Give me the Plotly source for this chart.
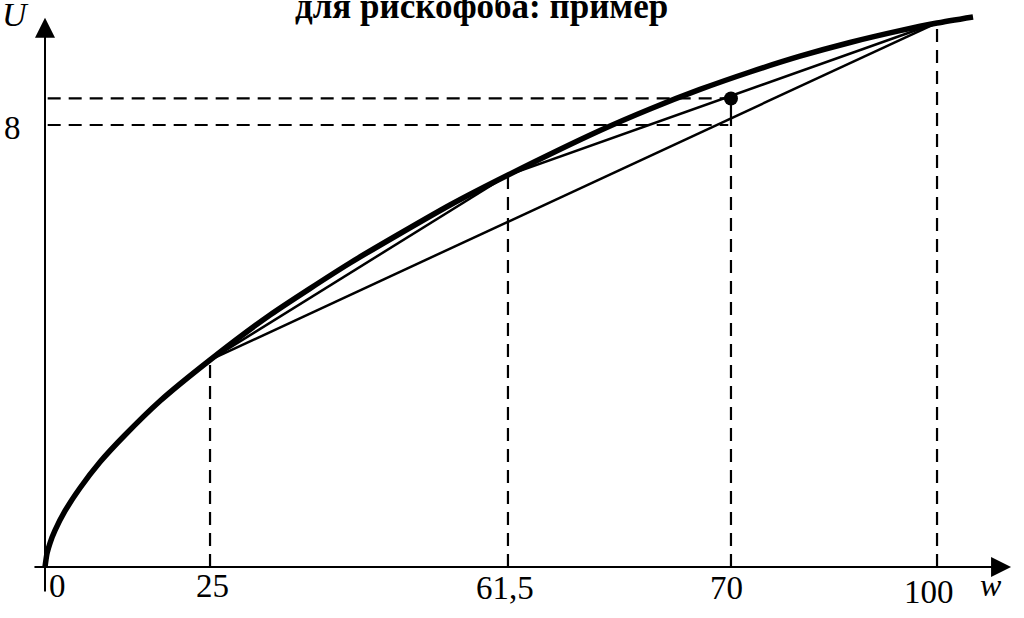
import plotly.graph_objects as go

# ---- data (schematic axis units) ----
w_labels = ["0", "25", "61,5", "70", "100"]
w_pos = [0, 18.5, 51.9, 76.9, 100]          # positions of the labelled wealth levels on the drawn w axis
U_at_w = [0, 3.747, 7.095, None, 9.85]      # utility at 0, 25, 61.5, 100
EU_hi = 8.48                                 # expected utility (dot) at w = 70
EU_lo = 8.0                                  # labelled level "8"
u_tick_label = "8"

curve_w = [0, 0.224, 0.561, 1.121, 2.242, 3.924, 6.166, 8.969, 12.892, 18.498,
           25.224, 34.193, 45.404, 51.906, 62.220, 67.825, 73.430, 79.036, 84.641,
           90.247, 95.852, 100, 104.036]
curve_u = [0, 0.244, 0.434, 0.661, 1.014, 1.430, 1.900, 2.389, 3.005, 3.747,
           4.561, 5.502, 6.552, 7.095, 7.900, 8.290, 8.643, 8.959, 9.245,
           9.493, 9.707, 9.846, 9.955]

title_text = "для рискофоба: пример"

# ---- figure ----
BLACK = "#000000"
SERIF = "Liberation Serif"
fig = go.Figure()

def seg(x, y, width=2.2, dash=None):
    fig.add_trace(go.Scatter(x=x, y=y, mode="lines",
                             line=dict(color=BLACK, width=width, dash=dash),
                             hoverinfo="skip", showlegend=False))

DASH = "13px,8px"
x0, x25, x615, x70, x100 = w_pos
u25, u615, u100 = U_at_w[1], U_at_w[2], U_at_w[4]

# vertical dashed drop lines
seg([x25, x25], [0, u25], dash=DASH)
seg([x615, x615], [0, u615], dash=DASH)
seg([x100, x100], [0, u100], dash=DASH)
seg([x70, x70], [0, EU_lo], dash=DASH)
seg([x70, x70], [EU_lo, EU_hi])
# horizontal dashed lines
seg([x0 + 0.3, x70 - 0.3], [EU_hi, EU_hi], dash=DASH)
seg([x0 + 0.3, x70 - 0.3], [EU_lo, EU_lo], dash=DASH)

# chords
seg([x25, x615], [u25, u615], width=2.5)
seg([x615, x100], [u615, u100], width=2.5)
seg([x25, x100], [u25, u100], width=2.5)

# utility curve
fig.add_trace(go.Scatter(x=curve_w, y=curve_u, mode="lines",
                         line=dict(color=BLACK, width=5.5, shape="spline", smoothing=0.6),
                         hoverinfo="skip", showlegend=False))

# expected utility dot
fig.add_trace(go.Scatter(x=[x70], y=[EU_hi], mode="markers",
                         marker=dict(color=BLACK, size=14),
                         hoverinfo="skip", showlegend=False))

# axes with arrows
fig.add_annotation(x=108.3, y=0, ax=-1.35, ay=0, xref="x", yref="y", axref="x", ayref="y",
                   text="", showarrow=True, arrowhead=2, arrowsize=2, arrowwidth=2,
                   arrowcolor=BLACK, standoff=0, startstandoff=0)
fig.add_annotation(x=0, y=9.94, ax=0, ay=-0.47, xref="x", yref="y", axref="x", ayref="y",
                   text="", showarrow=True, arrowhead=2, arrowsize=2, arrowwidth=2,
                   arrowcolor=BLACK, standoff=0, startstandoff=0)

# tick labels on the w axis
label_y = [-0.34, -0.34, -0.38, -0.38, -0.45]
xshift = [12, 2, -3, -4, -8]
for lab, xp, ly, xs in zip(w_labels, w_pos, label_y, xshift):
    fig.add_annotation(x=xp, y=ly, xref="x", yref="y", text=lab, showarrow=False,
                       xshift=xs, font=dict(family=SERIF, size=33, color=BLACK))

# axis names and the U label
fig.add_annotation(x=106.0, y=-0.33, xref="x", yref="y", text="<i>w</i>", showarrow=False,
                   font=dict(family=SERIF, size=32, color=BLACK))
fig.add_annotation(x=-3.3, y=10.0, xref="x", yref="y", text="<i>U</i>", showarrow=False,
                   font=dict(family=SERIF, size=34, color=BLACK))
fig.add_annotation(x=-3.7, y=EU_lo, xref="x", yref="y", text=u_tick_label, showarrow=False,
                   yshift=-3, font=dict(family=SERIF, size=33, color=BLACK))

# title (top partly cut off in the reference)
fig.add_annotation(x=481 / 1024, y=1.0, xref="paper", yref="paper", text="<b>" + title_text + "</b>",
                   showarrow=False, yanchor="middle", yshift=-6,
                   font=dict(family=SERIF, size=35, color=BLACK))

fig.update_layout(
    width=1024, height=618,
    margin=dict(l=0, r=0, t=0, b=0),
    paper_bgcolor="white", plot_bgcolor="white",
    xaxis=dict(range=[-5.045, 109.75], visible=False, fixedrange=True),
    yaxis=dict(range=[-0.923, 10.262], visible=False, fixedrange=True),
    showlegend=False,
)

fig.write_html("out.html", config={"displayModeBar": False},
               post_script="document.body.style.margin='0px';")
